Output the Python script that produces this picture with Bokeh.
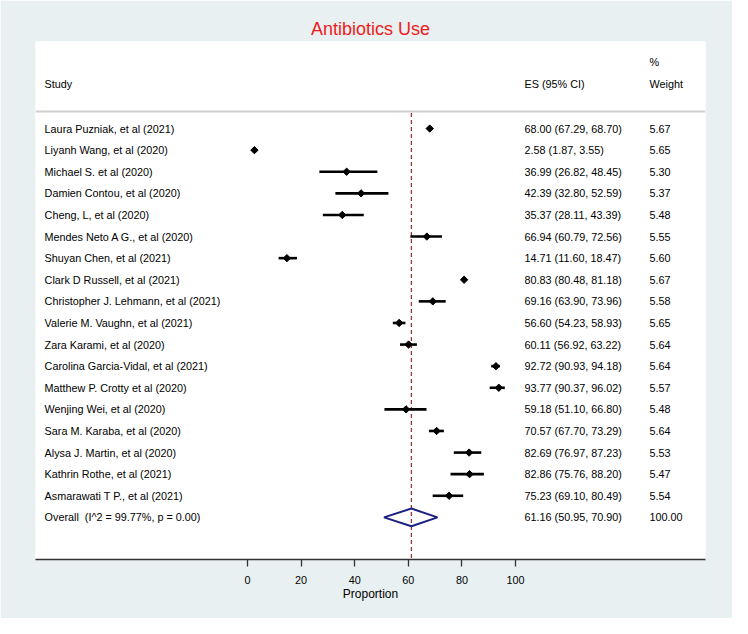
import math
from bokeh.plotting import figure
from bokeh.models import Range1d, FixedTicker, Span
from bokeh.core.properties import value
from bokeh.embed import file_html
from bokeh.resources import INLINE

studies = [
    "Laura Puzniak, et al (2021)",
    "Liyanh Wang, et al (2020)",
    "Michael S. et al (2020)",
    "Damien Contou, et al (2020)",
    "Cheng, L, et al (2020)",
    "Mendes Neto A G., et al (2020)",
    "Shuyan Chen, et al (2021)",
    "Clark D Russell, et al (2021)",
    "Christopher J. Lehmann, et al (2021)",
    "Valerie M. Vaughn, et al (2021)",
    "Zara Karami, et al (2020)",
    "Carolina Garcia-Vidal, et al (2021)",
    "Matthew P. Crotty et al (2020)",
    "Wenjing Wei, et al (2020)",
    "Sara M. Karaba, et al (2020)",
    "Alysa J. Martin, et al (2020)",
    "Kathrin Rothe, et al (2021)",
    "Asmarawati T P., et al (2021)",
]
es = [68.00, 2.58, 36.99, 42.39, 35.37, 66.94, 14.71, 80.83, 69.16, 56.60,
      60.11, 92.72, 93.77, 59.18, 70.57, 82.69, 82.86, 75.23]
lower = [67.29, 1.87, 26.82, 32.80, 28.11, 60.79, 11.60, 80.48, 63.90, 54.23,
         56.92, 90.93, 90.37, 51.10, 67.70, 76.97, 75.76, 69.10]
upper = [68.70, 3.55, 48.45, 52.59, 43.39, 72.56, 18.47, 81.18, 73.96, 58.93,
         63.22, 94.18, 96.02, 66.80, 73.29, 87.23, 88.20, 80.49]
weights = [5.67, 5.65, 5.30, 5.37, 5.48, 5.55, 5.60, 5.67, 5.58, 5.65,
           5.64, 5.64, 5.57, 5.48, 5.64, 5.53, 5.47, 5.54]

overall_label = "Overall\u00a0 (I^2 = 99.77%, p = 0.00)"
overall_es = 61.16
overall_lower = 50.95
overall_upper = 70.90
overall_weight = 100.00

x_ticks = [0, 20, 40, 60, 80, 100]

FONT = "Liberation Sans"
FS = "10.8px"
BG = "#e8f0f2"

rows = list(range(len(studies)))
overall_row = len(studies)

p = figure(width=732, height=618, output_backend="svg", toolbar_location=None,
           x_range=Range1d(-79.1, 170.9), y_range=Range1d(19.95, -4.03),
           y_axis_location=None, min_border_left=35, min_border_right=27,
           min_border_top=41, min_border_bottom=59)
p.background_fill_color = "white"
p.border_fill_color = BG
p.outline_line_color = None
p.grid.visible = False

p.title.text = "Antibiotics Use"
p.title.text_color = "#f01a1a"
p.title.text_font = FONT
p.title.text_font_size = "18px"
p.title.text_font_style = "normal"
p.title.align = "center"
p.title.standoff = 5

ax = p.xaxis[0]
ax.ticker = FixedTicker(ticks=x_ticks)
ax.minor_tick_line_color = None
ax.major_tick_in = 0
ax.major_tick_out = 7
ax.major_tick_line_color = "#333333"
ax.major_tick_line_width = 1.3
ax.axis_line_color = "#333333"
ax.axis_line_width = 1.3
ax.major_label_text_font = FONT
ax.major_label_text_font_size = FS
ax.major_label_text_color = "black"
ax.major_label_standoff = 9
ax.axis_label = "Proportion"
ax.axis_label_text_font = FONT
ax.axis_label_text_font_size = "12px"
ax.axis_label_text_font_style = "normal"
ax.axis_label_text_color = "black"
ax.axis_label_standoff = 0

# header separator
p.add_layout(Span(location=-0.79, dimension="width", line_color="#cfcfcf", line_width=2))

# reference (overall) dashed line
p.segment(x0=[overall_es], y0=[-0.72], x1=[overall_es], y1=[19.95],
          line_color="#9e3535", line_width=1.3, line_dash="4 3")

# CIs and point estimates
p.segment(x0=lower, y0=rows, x1=upper, y1=rows, line_color="black", line_width=2.6)
p.scatter(x=es, y=rows, marker="square", angle=math.pi / 4, size=5.2,
          fill_color="black", line_color="black", line_width=1)

# overall diamond
h = 0.41
p.patch(x=[overall_lower, overall_es, overall_upper, overall_es],
        y=[overall_row, overall_row - h, overall_row, overall_row + h],
        fill_color=None, line_color="#1c2080", line_width=2)

# text columns
x_study, x_es, x_w = -75.7, 103.4, 150.0
all_labels = studies + [overall_label]
all_rows = rows + [overall_row]
es_txt = [f"{e:.2f} ({l:.2f}, {u:.2f})" for e, l, u in zip(es, lower, upper)]
es_txt.append(f"{overall_es:.2f} ({overall_lower:.2f}, {overall_upper:.2f})")
w_txt = [f"{w:.2f}" for w in weights] + [f"{overall_weight:.2f}"]

common = dict(text_baseline="middle", text_align="left", text_font=value(FONT),
              text_font_size=FS, text_color="black")
p.text(x=[x_study] * len(all_rows), y=all_rows, text=all_labels, **common)
p.text(x=[x_es] * len(all_rows), y=all_rows, text=es_txt, **common)
p.text(x=[x_w] * len(all_rows), y=all_rows, text=w_txt, **common)

# headers
p.text(x=[x_study, x_es, x_w, x_w], y=[-2.04, -2.04, -3.06, -2.04],
       text=["Study", "ES (95% CI)", "%", "Weight"], **common)

open("out.html", "w").write(file_html(p, INLINE))
